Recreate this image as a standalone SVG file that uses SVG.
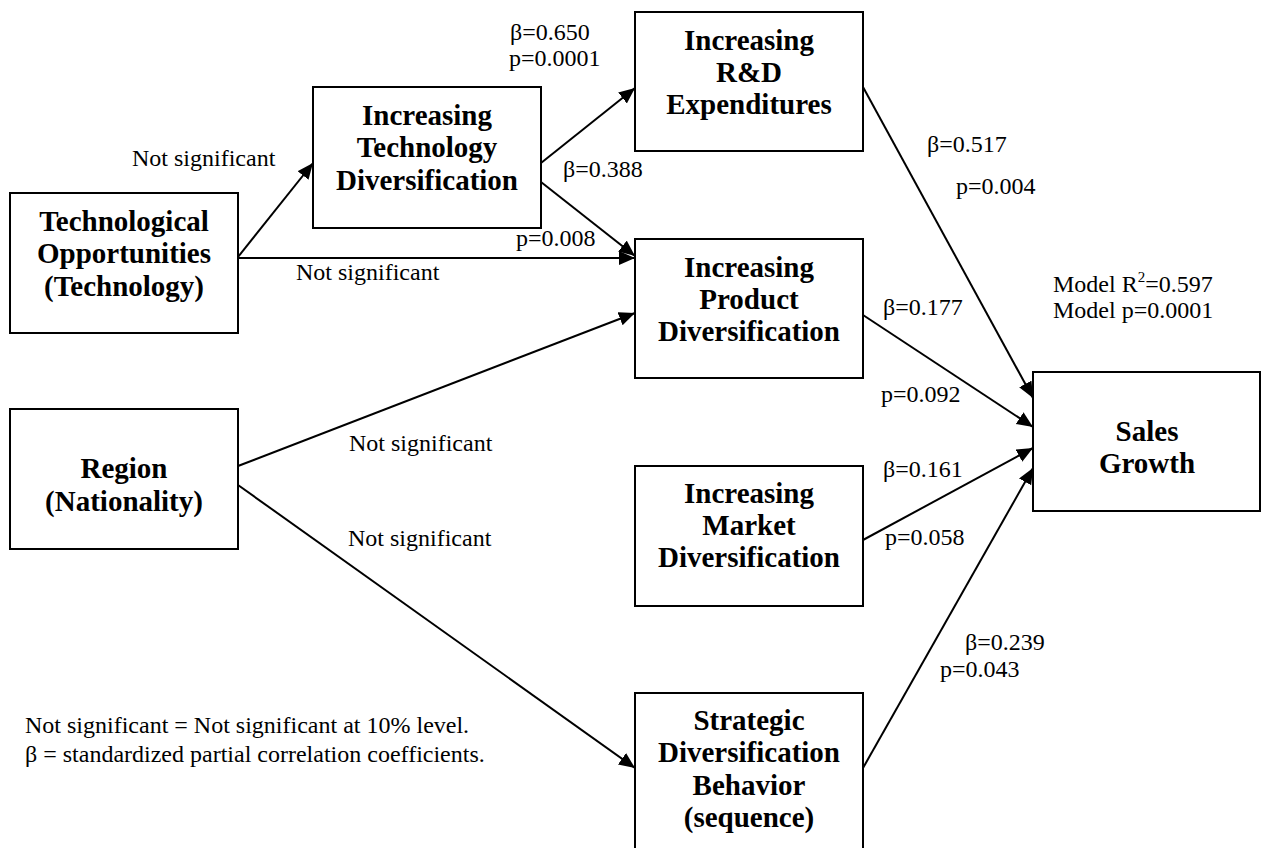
<svg xmlns="http://www.w3.org/2000/svg" width="1262" height="848" viewBox="0 0 1262 848">
<defs>
<style>
.box{fill:#fff;stroke:#000;stroke-width:2}
.bt{font-family:"Liberation Serif","Times New Roman",serif;font-weight:bold;font-size:29px;text-anchor:middle;fill:#000}
.lb{font-family:"Liberation Serif","Times New Roman",serif;font-size:24px;fill:#000}
.cn{fill:none;stroke:#000;stroke-width:2;marker-end:url(#ah)}
</style>
<marker id="ah" markerUnits="userSpaceOnUse" markerWidth="17" markerHeight="15" refX="16" refY="7" orient="auto" viewBox="0 0 17 15">
<path d="M0,0 L16,7 L0,14 z" fill="#000"/>
</marker>
</defs>
<rect width="1262" height="848" fill="#fff"/>

<g id="connectors">
<path class="cn" d="M238,257 L313,163"/>
<path class="cn" d="M238,258 L635,258"/>
<path class="cn" d="M541,163 L635,88"/>
<path class="cn" d="M541,182 L635,256"/>
<path class="cn" d="M238,466 L635,313"/>
<path class="cn" d="M238,485 L635,768"/>
<path class="cn" d="M863,87 L1033,398"/>
<path class="cn" d="M863,315 L1033,427"/>
<path class="cn" d="M863,540 L1033,448"/>
<path class="cn" d="M863,768 L1033,468"/>
</g>

<g id="node-tech-opp">
<rect class="box" x="10" y="193" width="228" height="140"/>
<text class="bt" x="124" y="231">Technological</text>
<text class="bt" x="124" y="263">Opportunities</text>
<text class="bt" x="124" y="296">(Technology)</text>
</g>

<g id="node-region">
<rect class="box" x="10" y="409" width="228" height="140"/>
<text class="bt" x="124" y="478">Region</text>
<text class="bt" x="124" y="511">(Nationality)</text>
</g>

<g id="node-tech-div">
<rect class="box" x="313" y="87" width="228" height="141"/>
<text class="bt" x="427" y="125">Increasing</text>
<text class="bt" x="427" y="157">Technology</text>
<text class="bt" x="427" y="190">Diversification</text>
</g>

<g id="node-rd">
<rect class="box" x="635" y="12" width="228" height="139"/>
<text class="bt" x="749" y="50">Increasing</text>
<text class="bt" x="749" y="82">R&amp;D</text>
<text class="bt" x="749" y="114">Expenditures</text>
</g>

<g id="node-product">
<rect class="box" x="635" y="239" width="228" height="139"/>
<text class="bt" x="749" y="277">Increasing</text>
<text class="bt" x="749" y="309">Product</text>
<text class="bt" x="749" y="341">Diversification</text>
</g>

<g id="node-market">
<rect class="box" x="635" y="466" width="228" height="140"/>
<text class="bt" x="749" y="503">Increasing</text>
<text class="bt" x="749" y="535">Market</text>
<text class="bt" x="749" y="567">Diversification</text>
</g>

<g id="node-strategic">
<rect class="box" x="635" y="693" width="228" height="170"/>
<text class="bt" x="749" y="730">Strategic</text>
<text class="bt" x="749" y="762">Diversification</text>
<text class="bt" x="749" y="795">Behavior</text>
<text class="bt" x="749" y="827">(sequence)</text>
</g>

<g id="node-sales">
<rect class="box" x="1033" y="372" width="227" height="139"/>
<text class="bt" x="1147" y="441">Sales</text>
<text class="bt" x="1147" y="473">Growth</text>
</g>

<g id="labels">
<text class="lb" x="132" y="166">Not significant</text>
<text class="lb" x="296" y="280">Not significant</text>
<text class="lb" x="510" y="40">β=0.650</text>
<text class="lb" x="509" y="66">p=0.0001</text>
<text class="lb" x="563" y="177">β=0.388</text>
<text class="lb" x="516" y="246">p=0.008</text>
<text class="lb" x="349" y="451">Not significant</text>
<text class="lb" x="348" y="546">Not significant</text>
<text class="lb" x="927" y="152">β=0.517</text>
<text class="lb" x="956" y="194">p=0.004</text>
<text class="lb" x="1053" y="292">Model R<tspan font-size="15" dy="-10">2</tspan><tspan dy="10">=0.597</tspan></text>
<text class="lb" x="1053" y="318">Model p=0.0001</text>
<text class="lb" x="883" y="315">β=0.177</text>
<text class="lb" x="881" y="402">p=0.092</text>
<text class="lb" x="883" y="477">β=0.161</text>
<text class="lb" x="885" y="545">p=0.058</text>
<text class="lb" x="965" y="650">β=0.239</text>
<text class="lb" x="940" y="677">p=0.043</text>
<text class="lb" x="25" y="733">Not significant = Not significant at 10% level.</text>
<text class="lb" x="25" y="762">β = standardized partial correlation coefficients.</text>
</g>
</svg>
